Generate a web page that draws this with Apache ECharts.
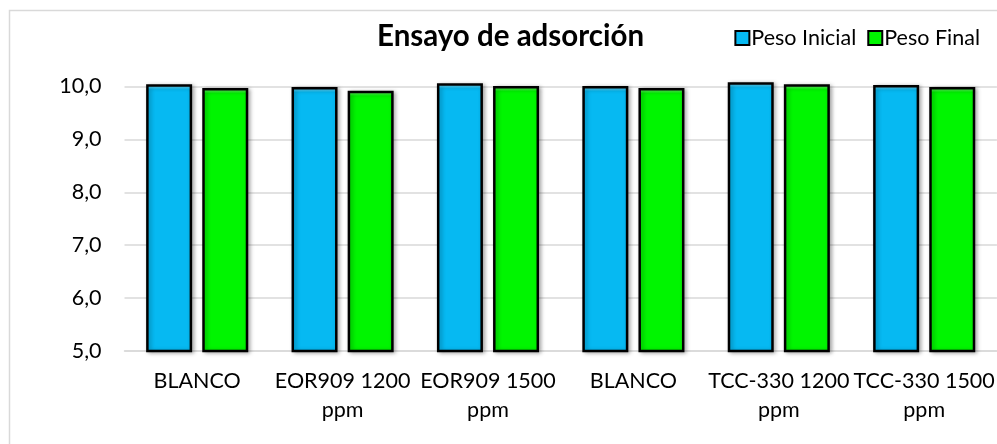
<!DOCTYPE html>
<html>
<head>
<meta charset="utf-8">
<title>Ensayo de adsorción</title>
<script src="https://cdn.jsdelivr.net/npm/echarts@6/dist/echarts.min.js"></script>
<style>
  html, body { margin: 0; padding: 0; background: #fff; }
  #chart { width: 997px; height: 444px; }
</style>
</head>
<body>
<div id="chart"></div>
<script>
// datos
const categorias = ['BLANCO', 'EOR909 1200\nppm', 'EOR909 1500\nppm', 'BLANCO', 'TCC-330 1200\nppm', 'TCC-330 1500\nppm'];
const pesoInicial = [10.04, 9.99, 10.06, 10.01, 10.08, 10.03];
const pesoFinal = [9.97, 9.92, 10.01, 9.97, 10.04, 9.99];
const ticksY = [5, 6, 7, 8, 9, 10];

const fuente = 'Lato';

// relleno con un brillo arriba, parecido al bisel de Excel
function relleno(claro, base) {
  return new echarts.graphic.LinearGradient(0, 0, 0, 1, [
    { offset: 0, color: claro },
    { offset: 0.02, color: base },
    { offset: 1, color: base }
  ]);
}

const myChart = echarts.init(document.getElementById('chart'));

const option = {
  animation: false,
  textStyle: { fontFamily: fuente },
  title: {
    text: 'Ensayo de adsorción',
    left: 372,
    top: 16,
    textStyle: { fontFamily: fuente, fontSize: 29.5, fontWeight: 'bold', color: '#000' }
  },
  legend: {
    orient: 'horizontal',
    right: 12,
    top: 22,
    itemWidth: 14,
    itemHeight: 14,
    itemGap: 11,
    icon: 'rect',
    textStyle: { fontFamily: fuente, fontSize: 21.5, color: '#000', padding: [0, 0, 0, -3] },
    data: ['Peso Inicial', 'Peso Final']
  },
  graphic: [{
    type: 'rect',
    silent: true,
    z: -10,
    shape: { x: 9.5, y: 10.5, width: 1200, height: 600 },
    style: { fill: 'none', stroke: '#d9d9d9', lineWidth: 1.5 }
  }],
  // 10,0 cae en y=86.5 y 5,0 en y=351; el tope se deja en 10,2 para que las barras no se corten
  grid: { left: 124.5, top: 75.9, width: 882, height: 275.1, containLabel: false },
  xAxis: {
    type: 'category',
    data: categorias,
    axisTick: { show: false },
    axisLine: { lineStyle: { color: '#d9d9d9', width: 1.5 } },
    axisLabel: {
      interval: 0,
      margin: 16,
      fontFamily: fuente,
      fontSize: 21.5,
      lineHeight: 29,
      color: '#000'
    }
  },
  yAxis: {
    type: 'value',
    min: ticksY[0],
    max: 10.2,
    interval: 1,
    axisLine: { show: false },
    axisTick: { show: false },
    splitLine: { showMaxLine: false, lineStyle: { color: '#d9d9d9', width: 1.5 } },
    axisLabel: {
      margin: 23,
      showMaxLabel: false,
      fontFamily: fuente,
      fontSize: 21.5,
      color: '#000',
      formatter: v => (ticksY.indexOf(v) >= 0 ? v.toFixed(1).replace('.', ',') : '')
    }
  },
  series: [
    {
      name: 'Peso Inicial',
      type: 'bar',
      data: pesoInicial,
      barWidth: 46,
      barGap: '22%',
      itemStyle: {
        color: relleno('#8ee6ff', '#06b9f2'),
        borderColor: '#000',
        borderWidth: 2.5,
        shadowColor: 'rgba(0,0,0,0.3)',
        shadowBlur: 4,
        shadowOffsetX: 2,
        shadowOffsetY: 1
      }
    },
    {
      name: 'Peso Final',
      type: 'bar',
      data: pesoFinal,
      barWidth: 46,
      itemStyle: {
        color: relleno('#8cff8c', '#00f500'),
        borderColor: '#000',
        borderWidth: 2.5,
        shadowColor: 'rgba(0,0,0,0.3)',
        shadowBlur: 4,
        shadowOffsetX: 2,
        shadowOffsetY: 1
      }
    }
  ]
};

option && myChart.setOption(option);
</script>
</body>
</html>
